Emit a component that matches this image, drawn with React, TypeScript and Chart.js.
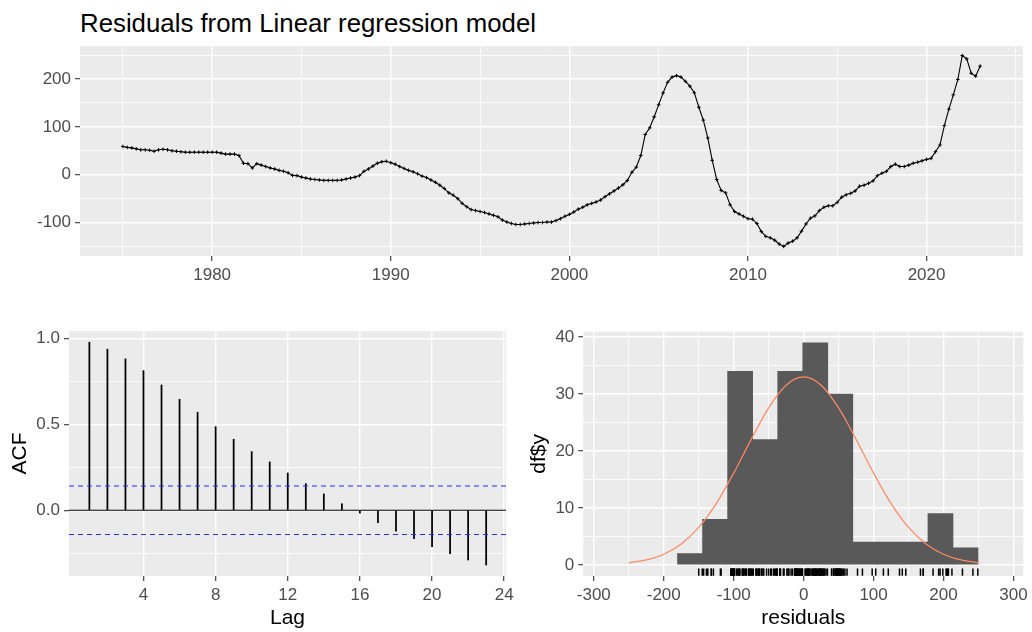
import React, { useEffect, useRef } from 'react';
import { Chart, registerables } from 'chart.js';

Chart.register(...registerables);

const FONT = '"Liberation Sans", Arial, Helvetica, sans-serif';

// Quarterly residuals from the regression, 1975 Q1 to 2023 Q1
const residuals: number[] = [
  59, 57, 56, 54, // 1975
  52, 52, 51, 49, // 1976
  52, 53, 52, 50, // 1977
  49, 48, 47, 47, // 1978
  47, 47, 47, 47, // 1979
  47, 47, 45, 43, // 1980
  43, 43, 40, 24, // 1981
  23, 14, 23, 20, // 1982
  17, 14, 12, 9, // 1983
  7, 4, -1.5, -2, // 1984
  -5, -7, -9, -10, // 1985
  -11, -12, -12, -12, // 1986
  -12, -11, -9, -7, // 1987
  -5, -2, 7, 12, // 1988
  18, 24, 27, 28, // 1989
  25, 22, 17, 13, // 1990
  9, 6, 2, -3, // 1991
  -6, -11, -16, -22, // 1992
  -29, -38, -43, -50, // 1993
  -60, -67, -73, -75, // 1994
  -77, -79, -82, -85, // 1995
  -88, -95, -99, -102, // 1996
  -104, -104, -103, -102, // 1997
  -101, -100, -100, -99, // 1998
  -99, -96, -92, -87, // 1999
  -83, -78, -72, -68, // 2000
  -63, -60, -57, -53, // 2001
  -46, -40, -34, -28, // 2002
  -21, -12, 5, 16, // 2003
  40, 84, 98, 121, // 2004
  146, 171, 193, 204, // 2005
  207, 204, 195, 185, // 2006
  171, 141, 114, 77, // 2007
  30, -10, -33, -38, // 2008
  -63, -77, -82, -87, // 2009
  -92, -93, -102, -119, // 2010
  -129, -132, -137, -145, // 2011
  -150, -143, -139, -132, // 2012
  -118, -103, -91, -86, // 2013
  -75, -68, -65, -65, // 2014
  -58, -47, -42, -39, // 2015
  -34, -24, -22, -18, // 2016
  -13, -2, 3, 7, // 2017
  17, 22, 17, 17, // 2018
  20, 24, 26, 29, // 2019
  32, 34, 48, 62, // 2020
  103, 137, 167, 199, // 2021
  249, 242, 212, 206, // 2022
  227, // 2023
];
const START_YEAR = 1975;
const PERIODS_PER_YEAR = 4;

// Autocorrelation of the residuals
const acfLags: number[] = [1, 2, 3, 4, 5, 6, 7, 8, 9, 10, 11, 12, 13, 14, 15, 16, 17, 18, 19, 20, 21, 22, 23];
const acfValues: number[] = [
  0.977, 0.936, 0.88, 0.812, 0.728, 0.645, 0.57, 0.486, 0.413, 0.341, 0.281, 0.217,
  0.155, 0.095, 0.038, -0.017, -0.072, -0.122, -0.165, -0.212, -0.252, -0.289, -0.318,
];
const acfBound = 0.141;

// Histogram of residuals
const binCentres: number[] = [-162.4, -126.6, -90.8, -55.0, -19.2, 16.6, 52.4, 88.2, 124.0, 159.8, 195.6, 231.4];
const binCounts: number[] = [2, 8, 34, 22, 34, 39, 30, 4, 4, 4, 9, 3];

// Fitted normal density, scaled to counts
const normalX: number[] = [-250, -225, -200, -175, -150, -125, -100, -75, -50, -25, 0, 25, 50, 75, 100, 125, 150, 175, 200, 225, 250];
const normalY: number[] = [0.37, 0.87, 1.87, 3.67, 6.57, 10.76, 16.11, 22.04, 27.58, 31.55, 33.0, 31.55, 27.58, 22.04, 16.11, 10.76, 6.57, 3.67, 1.87, 0.87, 0.37];

// Axis ranges and breaks
const tsX = { min: 1972.6, max: 2025.4, majors: [1980, 1990, 2000, 2010, 2020], minors: [1975, 1985, 1995, 2005, 2015, 2025] };
const tsY = { min: -170, max: 269, majors: [-100, 0, 100, 200], minors: [-150, -50, 50, 150, 250] };
const acfX = { min: -0.13, max: 24.1, majors: [4, 8, 12, 16, 20, 24], minors: [] as number[] };
const acfY = { min: -0.382, max: 1.042, majors: [0, 0.5, 1], minors: [-0.25, 0.25, 0.75] };
const histX = { min: -315, max: 314, majors: [-300, -200, -100, 0, 100, 200, 300], minors: [-250, -150, -50, 50, 150, 250] };
const histY = { min: -1.95, max: 40.95, majors: [0, 10, 20, 30, 40], minors: [5, 15, 25, 35] };

const panelBackground = {
  id: 'panelBackground',
  beforeDraw(chart: any) {
    const { ctx, chartArea: a } = chart;
    ctx.save();
    ctx.fillStyle = '#EBEBEB';
    ctx.fillRect(a.left, a.top, a.right - a.left, a.bottom - a.top);
    ctx.restore();
  },
};

type AxisSpec = { min: number; max: number; majors: number[]; minors: number[] };

function ggAxis(
  spec: AxisSpec,
  horizontal: boolean,
  size: number,
  fmt: (v: number) => string,
  title?: string,
  titlePadding?: any,
) {
  const all = [...spec.majors, ...spec.minors].sort((a, b) => a - b);
  const isMajor = (v: number) => spec.majors.some((m) => Math.abs(m - v) < 1e-9);
  return {
    type: 'linear',
    min: spec.min,
    max: spec.max,
    offset: false,
    afterBuildTicks: (axis: any) => {
      axis.ticks = all.map((v) => ({ value: v }));
    },
    afterFit: (axis: any) => {
      if (horizontal) axis.height = size;
      else axis.width = size;
      // panel edges come from the layout padding only
      axis.paddingTop = 0;
      axis.paddingBottom = 0;
      axis.paddingLeft = 0;
      axis.paddingRight = 0;
    },
    grid: {
      offset: false,
      color: '#FFFFFF',
      lineWidth: (c: any) => (c.tick && isMajor(c.tick.value) ? 1.4 : 0.8),
      drawTicks: true,
      tickLength: 5,
      tickWidth: 1.1,
      tickColor: (c: any) => (c.tick && isMajor(c.tick.value) ? '#333333' : 'rgba(0,0,0,0)'),
    },
    border: { display: false },
    ticks: {
      autoSkip: false,
      maxRotation: 0,
      minRotation: 0,
      padding: 4,
      color: '#4D4D4D',
      font: { family: FONT, size: 17 },
      callback: (v: any) => (isMajor(Number(v)) ? fmt(Number(v)) : ''),
    },
    title: title
      ? { display: true, text: title, color: '#000000', font: { family: FONT, size: 21 }, padding: titlePadding }
      : { display: false },
  };
}

const baseOptions = (padding: any) => ({
  animation: false,
  responsive: false,
  maintainAspectRatio: false,
  devicePixelRatio: 1,
  layout: { padding },
  plugins: { legend: { display: false }, tooltip: { enabled: false }, title: { display: false } },
  events: [] as string[],
});

export default function App() {
  const tsRef = useRef<HTMLCanvasElement>(null);
  const acfRef = useRef<HTMLCanvasElement>(null);
  const histRef = useRef<HTMLCanvasElement>(null);

  useEffect(() => {
    const charts: Chart[] = [];

    // Residual time series
    charts.push(
      new Chart(tsRef.current as HTMLCanvasElement, {
        type: 'line',
        data: {
          datasets: [
            {
              data: residuals.map((r, i) => ({ x: START_YEAR + i / PERIODS_PER_YEAR, y: r })),
              borderColor: '#000000',
              borderWidth: 1.1,
              pointStyle: 'cross',
              pointRadius: 1.8,
              pointBorderWidth: 1,
              pointBorderColor: '#000000',
              pointBackgroundColor: '#000000',
              tension: 0,
            },
          ],
        },
        options: {
          ...baseOptions({ top: 6, right: 9, bottom: 0, left: 0 }),
          scales: {
            x: ggAxis(tsX, true, 34, (v) => String(v)),
            y: ggAxis(tsY, false, 80, (v) => String(v)),
          },
        } as any,
        plugins: [panelBackground],
      }),
    );

    // ACF
    charts.push(
      new Chart(acfRef.current as HTMLCanvasElement, {
        type: 'bar',
        data: {
          datasets: [
            {
              type: 'line',
              data: [
                { x: acfX.min, y: acfBound },
                { x: acfX.max, y: acfBound },
              ],
              borderColor: '#2B2BFF',
              borderWidth: 1.1,
              borderDash: [5, 4],
              pointRadius: 0,
              order: 0,
            },
            {
              type: 'line',
              data: [
                { x: acfX.min, y: -acfBound },
                { x: acfX.max, y: -acfBound },
              ],
              borderColor: '#2B2BFF',
              borderWidth: 1.1,
              borderDash: [5, 4],
              pointRadius: 0,
              order: 0,
            },
            {
              type: 'line',
              data: [
                { x: acfX.min, y: 0 },
                { x: acfX.max, y: 0 },
              ],
              borderColor: '#000000',
              borderWidth: 1.1,
              pointRadius: 0,
              order: 1,
            },
            {
              type: 'bar',
              data: acfLags.map((l, i) => ({ x: l, y: acfValues[i] })),
              backgroundColor: '#000000',
              barThickness: 1.1,
              order: 2,
            },
          ],
        },
        options: {
          ...baseOptions({ top: 11, right: 10, bottom: 0, left: 0 }),
          scales: {
            x: ggAxis(acfX, true, 56, (v) => String(v), 'Lag', { top: 0, bottom: 1.4 }),
            y: ggAxis(acfY, false, 69, (v) => v.toFixed(1), 'ACF', { top: 8.1, bottom: 0 }),
          },
        } as any,
        plugins: [panelBackground],
      }),
    );

    // Histogram with normal curve and rug
    charts.push(
      new Chart(histRef.current as HTMLCanvasElement, {
        type: 'bar',
        data: {
          datasets: [
            {
              type: 'line',
              data: normalX.map((x, i) => ({ x, y: normalY[i] })),
              borderColor: '#FF8A62',
              borderWidth: 1.2,
              pointRadius: 0,
              cubicInterpolationMode: 'monotone',
              order: 0,
            },
            {
              type: 'scatter',
              data: residuals.map((r) => ({ x: r, y: -1.28 })),
              pointStyle: 'line',
              rotation: 90,
              radius: 3.66,
              borderColor: '#000000',
              borderWidth: 1.5,
              order: 1,
            },
            {
              type: 'bar',
              data: binCentres.map((c, i) => ({ x: c, y: binCounts[i] })),
              backgroundColor: '#595959',
              borderWidth: 0,
              barPercentage: 1,
              categoryPercentage: 1,
              order: 2,
            },
          ],
        },
        options: {
          ...baseOptions({ top: 11.7, right: 8.7, bottom: 0, left: 0 }),
          scales: {
            x: ggAxis(histX, true, 56, (v) => String(v), 'residuals', { top: 0, bottom: 1.4 }),
            y: ggAxis(histY, false, 67.3, (v) => String(v), 'df$y', { top: 11.1, bottom: 0 }),
          },
        } as any,
        plugins: [panelBackground],
      }),
    );

    return () => charts.forEach((c) => c.destroy());
  }, []);

  const canvasStyle = (left: number, top: number, width: number, height: number): React.CSSProperties => ({
    position: 'absolute',
    left,
    top,
    width,
    height,
  });

  return (
    <div style={{ position: 'fixed', left: 0, top: 0, width: 1032, height: 632, background: '#FFFFFF', overflow: 'hidden' }}>
      <div
        style={{
          position: 'absolute',
          left: 80,
          top: 10.9,
          fontFamily: FONT,
          fontSize: 25.8,
          lineHeight: 1,
          color: '#000000',
          whiteSpace: 'nowrap',
        }}
      >
        Residuals from Linear regression model
      </div>
      <canvas ref={tsRef} width={1032} height={250} style={canvasStyle(0, 40, 1032, 250)} />
      <canvas ref={acfRef} width={516} height={312} style={canvasStyle(0, 320, 516, 312)} />
      <canvas ref={histRef} width={516} height={312} style={canvasStyle(516, 320, 516, 312)} />
    </div>
  );
}
